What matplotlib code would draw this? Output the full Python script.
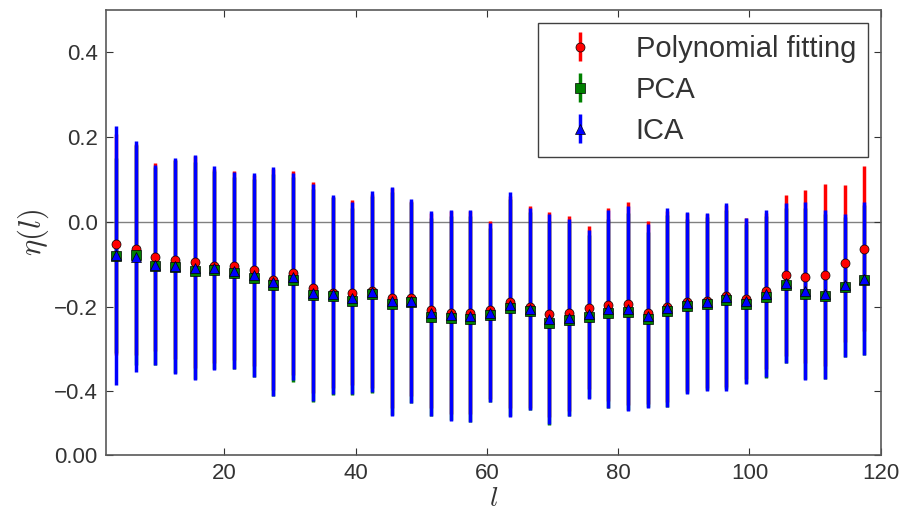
import numpy as np
import matplotlib
matplotlib.use("Agg")
import matplotlib.pyplot as plt

plt.rcParams['font.family'] = ['Liberation Sans', 'DejaVu Sans']
plt.rcParams['mathtext.fontset'] = 'cm'

# multipole bins
ell = np.arange(3.5, 118, 3)

# polynomial fitting
poly_c = [-0.053, -0.065, -0.082, -0.089, -0.094, -0.104, -0.103, -0.114, -0.136, -0.120,
          -0.155, -0.167, -0.167, -0.163, -0.180, -0.180, -0.208, -0.214, -0.214, -0.208,
          -0.189, -0.200, -0.218, -0.216, -0.202, -0.195, -0.193, -0.214, -0.200, -0.190,
          -0.187, -0.175, -0.181, -0.163, -0.126, -0.129, -0.126, -0.098, -0.063]
poly_err = [0.260, 0.250, 0.222, 0.235, 0.250, 0.230, 0.224, 0.225, 0.260, 0.241,
            0.249, 0.225, 0.218, 0.230, 0.260, 0.230, 0.230, 0.240, 0.240, 0.210,
            0.250, 0.238, 0.242, 0.231, 0.192, 0.228, 0.239, 0.216, 0.225, 0.210,
            0.205, 0.215, 0.190, 0.185, 0.190, 0.205, 0.215, 0.186, 0.194]

# PCA
pca_c = [-0.080, -0.078, -0.104, -0.106, -0.115, -0.114, -0.120, -0.133, -0.148, -0.136,
         -0.173, -0.175, -0.187, -0.171, -0.193, -0.190, -0.224, -0.226, -0.228, -0.220,
         -0.202, -0.210, -0.238, -0.231, -0.224, -0.216, -0.212, -0.230, -0.210, -0.198,
         -0.193, -0.184, -0.193, -0.177, -0.150, -0.169, -0.176, -0.153, -0.137]
pca_err = [0.230, 0.260, 0.234, 0.251, 0.256, 0.233, 0.226, 0.234, 0.262, 0.241,
           0.251, 0.233, 0.221, 0.233, 0.263, 0.238, 0.233, 0.241, 0.243, 0.206,
           0.257, 0.234, 0.241, 0.228, 0.192, 0.224, 0.232, 0.207, 0.227, 0.205,
           0.204, 0.211, 0.188, 0.192, 0.184, 0.202, 0.195, 0.165, 0.177]

# ICA
ica_c = [-0.079, -0.082, -0.102, -0.104, -0.108, -0.109, -0.115, -0.125, -0.141, -0.129,
         -0.167, -0.171, -0.180, -0.165, -0.187, -0.187, -0.216, -0.220, -0.222, -0.214,
         -0.195, -0.205, -0.230, -0.226, -0.218, -0.206, -0.205, -0.222, -0.202, -0.191,
         -0.189, -0.177, -0.187, -0.169, -0.144, -0.163, -0.171, -0.150, -0.134]
ica_err = [0.306, 0.272, 0.236, 0.255, 0.265, 0.240, 0.233, 0.241, 0.270, 0.245,
           0.256, 0.235, 0.227, 0.237, 0.270, 0.241, 0.241, 0.249, 0.249, 0.212,
           0.265, 0.239, 0.248, 0.233, 0.199, 0.233, 0.242, 0.216, 0.234, 0.214,
           0.211, 0.222, 0.196, 0.197, 0.189, 0.209, 0.200, 0.169, 0.180]

ytick_vals = [-0.55, -0.4, -0.2, 0.0, 0.2, 0.4]
ytick_text = ['0.00', '\u22120.4', '\u22120.2', '0.0', '0.2', '0.4']

fig = plt.figure(figsize=(9.02, 5.14), dpi=100)
ax = fig.add_axes([0.1175, 0.1148, 0.859, 0.8657])

ax.axhline(0, color='0.5', lw=1, zorder=0)

series = [(poly_c, poly_err, 'r', 'o', 'Polynomial fitting'),
          (pca_c, pca_err, 'g', 's', 'PCA'),
          (ica_c, ica_err, 'b', '^', 'ICA')]
for i, (c, e, col, mk, lab) in enumerate(series):
    cont = ax.errorbar(ell, c, yerr=e, fmt=mk, color=col, ecolor=col,
                       elinewidth=2.5, capsize=0, ms=6.5, mec='k', mew=0.5,
                       label=lab, zorder=2 + i)
    cont[0].set_zorder(6 + i)

ax.set_xlim(2, 120)
ax.set_ylim(-0.55, 0.5)
ax.set_xticks([20, 40, 60, 80, 100, 120])
ax.set_yticks(ytick_vals)
ax.set_yticklabels(ytick_text)
ax.tick_params(direction='in', top=True, right=True, length=5, width=0.8,
               labelsize=16, colors='0.2', pad=6)
for sp in ax.spines.values():
    sp.set_color('0.35')
    sp.set_linewidth(1.2)

ax.set_xlabel(r'$l$', fontsize=20, color='0.2', labelpad=1)
ax.set_ylabel(r'$\eta(l)$', fontsize=22, color='0.2', labelpad=2)

leg = ax.legend(loc='upper right', numpoints=1, fontsize=21, borderpad=0.4,
                handlelength=2.1, handletextpad=0.85, labelspacing=0.45,
                borderaxespad=0.45, fancybox=False, framealpha=1)
leg.get_frame().set_edgecolor('0.25')
leg.get_frame().set_linewidth(1.0)
for t in leg.get_texts():
    t.set_color('0.2')

fig.savefig('out.png', dpi=100)
